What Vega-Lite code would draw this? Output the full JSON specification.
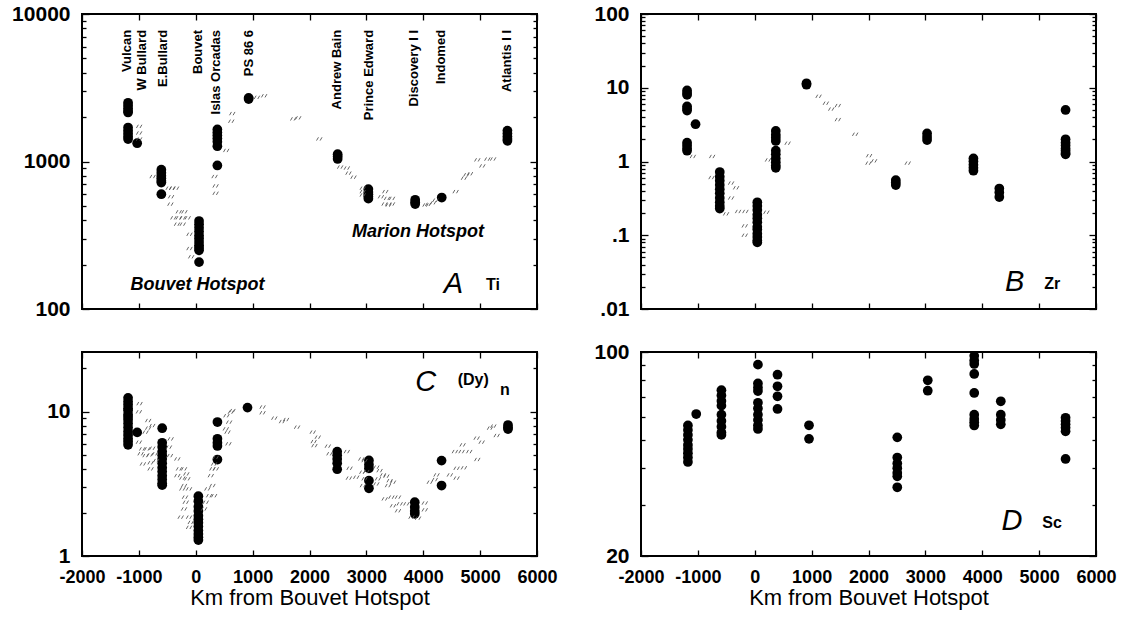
{
  "$schema": "https://vega.github.io/schema/vega-lite/v6.json",
  "padding": {"left": 10, "top": 2, "right": 5, "bottom": 3},
  "background": "white",
  "config": {
    "view": {"stroke": "black", "strokeWidth": 2},
    "font": "Liberation Sans",
    "axis": {"domain": false, "grid": false, "tickColor": "black", "tickWidth": 1.3, "labelFont": "Liberation Sans", "labelFontWeight": "bold", "labelColor": "black", "labelFlush": false, "labelOverlap": false, "labelBound": false, "titleFont": "Liberation Sans", "titleColor": "black"}
  },
  "datasets": {
    "A": [
      {"km": -1190, "v": 2500, "t": "d"}, {"km": -1190, "v": 2400, "t": "d"}, {"km": -1190, "v": 2300, "t": "d"}, {"km": -1190, "v": 2200, "t": "d"}, {"km": -1190, "v": 2150, "t": "d"},
      {"km": -1190, "v": 1700, "t": "d"}, {"km": -1190, "v": 1620, "t": "d"}, {"km": -1190, "v": 1550, "t": "d"}, {"km": -1190, "v": 1480, "t": "d"}, {"km": -1190, "v": 1420, "t": "d"},
      {"km": -1030, "v": 1330, "t": "d"},
      {"km": -605, "v": 880, "t": "d"}, {"km": -605, "v": 840, "t": "d"}, {"km": -605, "v": 800, "t": "d"}, {"km": -605, "v": 770, "t": "d"}, {"km": -605, "v": 740, "t": "d"}, {"km": -605, "v": 720, "t": "d"}, {"km": -605, "v": 600, "t": "d"},
      {"km": 58, "v": 395, "t": "d"}, {"km": 58, "v": 375, "t": "d"}, {"km": 58, "v": 355, "t": "d"}, {"km": 58, "v": 335, "t": "d"}, {"km": 58, "v": 315, "t": "d"}, {"km": 58, "v": 300, "t": "d"}, {"km": 58, "v": 285, "t": "d"}, {"km": 58, "v": 270, "t": "d"}, {"km": 58, "v": 260, "t": "d"}, {"km": 58, "v": 250, "t": "d"}, {"km": 58, "v": 208, "t": "d"},
      {"km": 380, "v": 1650, "t": "d"}, {"km": 380, "v": 1570, "t": "d"}, {"km": 380, "v": 1500, "t": "d"}, {"km": 380, "v": 1430, "t": "d"}, {"km": 380, "v": 1360, "t": "d"}, {"km": 380, "v": 1270, "t": "d"}, {"km": 380, "v": 940, "t": "d"},
      {"km": 930, "v": 2700, "t": "d"}, {"km": 930, "v": 2650, "t": "d"},
      {"km": 2495, "v": 1120, "t": "d"}, {"km": 2495, "v": 1080, "t": "d"}, {"km": 2495, "v": 1040, "t": "d"},
      {"km": 3035, "v": 650, "t": "d"}, {"km": 3035, "v": 620, "t": "d"}, {"km": 3035, "v": 600, "t": "d"}, {"km": 3035, "v": 580, "t": "d"}, {"km": 3035, "v": 560, "t": "d"},
      {"km": 3858, "v": 550, "t": "d"}, {"km": 3858, "v": 530, "t": "d"}, {"km": 3858, "v": 515, "t": "d"},
      {"km": 4325, "v": 570, "t": "d"},
      {"km": 5480, "v": 1620, "t": "d"}, {"km": 5480, "v": 1550, "t": "d"}, {"km": 5480, "v": 1480, "t": "d"}, {"km": 5480, "v": 1420, "t": "d"}, {"km": 5480, "v": 1380, "t": "d"},
      {"km": -995, "v": 1730, "t": "s"}, {"km": -995, "v": 1560, "t": "s"}, {"km": -995, "v": 1420, "t": "s"},
      {"km": -758, "v": 791, "t": "s"}, {"km": -476, "v": 659, "t": "s"}, {"km": -416, "v": 659, "t": "s"}, {"km": -346, "v": 659, "t": "s"}, {"km": -434, "v": 577, "t": "s"}, {"km": -446, "v": 514, "t": "s"}, {"km": -299, "v": 456, "t": "s"}, {"km": -199, "v": 456, "t": "s"}, {"km": -393, "v": 415, "t": "s"}, {"km": -299, "v": 415, "t": "s"}, {"km": -229, "v": 415, "t": "s"}, {"km": -141, "v": 415, "t": "s"}, {"km": -329, "v": 376, "t": "s"}, {"km": -229, "v": 376, "t": "s"}, {"km": -110, "v": 321, "t": "s"}, {"km": -110, "v": 257, "t": "s"}, {"km": -80, "v": 226, "t": "s"},
      {"km": 331, "v": 791, "t": "s"}, {"km": 349, "v": 683, "t": "s"}, {"km": 349, "v": 609, "t": "s"}, {"km": 642, "v": 2113, "t": "s"}, {"km": 624, "v": 1875, "t": "s"}, {"km": 536, "v": 1188, "t": "s"},
      {"km": 1076, "v": 2723, "t": "s"}, {"km": 1203, "v": 2790, "t": "s"}, {"km": 1714, "v": 1945, "t": "s"}, {"km": 1802, "v": 1976, "t": "s"}, {"km": 2172, "v": 1422, "t": "s"},
      {"km": 2539, "v": 917, "t": "s"}, {"km": 2657, "v": 903, "t": "s"}, {"km": 2685, "v": 834, "t": "s"}, {"km": 2774, "v": 783, "t": "s"},
      {"km": 2936, "v": 659, "t": "s"}, {"km": 2936, "v": 625, "t": "s"}, {"km": 2936, "v": 593, "t": "s"}, {"km": 3256, "v": 577, "t": "s"}, {"km": 3333, "v": 625, "t": "s"}, {"km": 3363, "v": 562, "t": "s"}, {"km": 3451, "v": 562, "t": "s"}, {"km": 3320, "v": 515, "t": "s"}, {"km": 3391, "v": 507, "t": "s"}, {"km": 3451, "v": 515, "t": "s"},
      {"km": 4040, "v": 507, "t": "s"}, {"km": 4086, "v": 512, "t": "s"}, {"km": 4175, "v": 525, "t": "s"}, {"km": 4216, "v": 547, "t": "s"},
      {"km": 4570, "v": 625, "t": "s"}, {"km": 4716, "v": 771, "t": "s"}, {"km": 4759, "v": 813, "t": "s"}, {"km": 4822, "v": 826, "t": "s"}, {"km": 4951, "v": 1026, "t": "s"}, {"km": 5039, "v": 933, "t": "s"}, {"km": 5127, "v": 1038, "t": "s"}, {"km": 5229, "v": 1040, "t": "s"}
    ],
    "B": [
      {"km": -1190, "v": 9.2, "t": "d"}, {"km": -1190, "v": 8.5, "t": "d"}, {"km": -1190, "v": 8.0, "t": "d"}, {"km": -1190, "v": 5.6, "t": "d"}, {"km": -1190, "v": 5.2, "t": "d"}, {"km": -1190, "v": 4.9, "t": "d"}, {"km": -1190, "v": 1.8, "t": "d"}, {"km": -1190, "v": 1.65, "t": "d"}, {"km": -1190, "v": 1.5, "t": "d"}, {"km": -1190, "v": 1.4, "t": "d"},
      {"km": -1041, "v": 3.2, "t": "d"},
      {"km": -615, "v": 0.72, "t": "d"}, {"km": -615, "v": 0.62, "t": "d"}, {"km": -615, "v": 0.55, "t": "d"}, {"km": -615, "v": 0.48, "t": "d"}, {"km": -615, "v": 0.42, "t": "d"}, {"km": -615, "v": 0.37, "t": "d"}, {"km": -615, "v": 0.32, "t": "d"}, {"km": -615, "v": 0.28, "t": "d"}, {"km": -615, "v": 0.25, "t": "d"}, {"km": -615, "v": 0.23, "t": "d"},
      {"km": 45, "v": 0.28, "t": "d"}, {"km": 45, "v": 0.25, "t": "d"}, {"km": 45, "v": 0.22, "t": "d"}, {"km": 45, "v": 0.19, "t": "d"}, {"km": 45, "v": 0.17, "t": "d"}, {"km": 45, "v": 0.15, "t": "d"}, {"km": 45, "v": 0.13, "t": "d"}, {"km": 45, "v": 0.12, "t": "d"}, {"km": 45, "v": 0.105, "t": "d"}, {"km": 45, "v": 0.095, "t": "d"}, {"km": 45, "v": 0.085, "t": "d"}, {"km": 45, "v": 0.08, "t": "d"},
      {"km": 370, "v": 2.6, "t": "d"}, {"km": 370, "v": 2.3, "t": "d"}, {"km": 370, "v": 2.1, "t": "d"}, {"km": 370, "v": 1.9, "t": "d"}, {"km": 370, "v": 1.4, "t": "d"}, {"km": 370, "v": 1.25, "t": "d"}, {"km": 370, "v": 1.1, "t": "d"}, {"km": 370, "v": 0.98, "t": "d"}, {"km": 370, "v": 0.88, "t": "d"}, {"km": 370, "v": 0.82, "t": "d"},
      {"km": 910, "v": 11.5, "t": "d"}, {"km": 910, "v": 11, "t": "d"},
      {"km": 2480, "v": 0.56, "t": "d"}, {"km": 2480, "v": 0.52, "t": "d"}, {"km": 2480, "v": 0.48, "t": "d"},
      {"km": 3030, "v": 2.4, "t": "d"}, {"km": 3030, "v": 2.15, "t": "d"}, {"km": 3030, "v": 1.95, "t": "d"},
      {"km": 3845, "v": 1.1, "t": "d"}, {"km": 3845, "v": 1.0, "t": "d"}, {"km": 3845, "v": 0.9, "t": "d"}, {"km": 3845, "v": 0.82, "t": "d"}, {"km": 3845, "v": 0.75, "t": "d"},
      {"km": 4300, "v": 0.43, "t": "d"}, {"km": 4300, "v": 0.38, "t": "d"}, {"km": 4300, "v": 0.33, "t": "d"},
      {"km": 5465, "v": 5.0, "t": "d"}, {"km": 5465, "v": 2.0, "t": "d"}, {"km": 5465, "v": 1.8, "t": "d"}, {"km": 5465, "v": 1.65, "t": "d"}, {"km": 5465, "v": 1.5, "t": "d"}, {"km": 5465, "v": 1.4, "t": "d"}, {"km": 5465, "v": 1.3, "t": "d"}, {"km": 5465, "v": 1.25, "t": "d"},
      {"km": -1088, "v": 1.17, "t": "s"}, {"km": -749, "v": 1.17, "t": "s"}, {"km": -760, "v": 0.606, "t": "s"}, {"km": -416, "v": 0.51, "t": "s"}, {"km": -328, "v": 0.44, "t": "s"}, {"km": -416, "v": 0.32, "t": "s"}, {"km": -504, "v": 0.195, "t": "s"}, {"km": -293, "v": 0.21, "t": "s"}, {"km": -164, "v": 0.21, "t": "s"}, {"km": -176, "v": 0.134, "t": "s"}, {"km": -176, "v": 0.10, "t": "s"}, {"km": 205, "v": 0.205, "t": "s"}, {"km": 233, "v": 1.05, "t": "s"}, {"km": 578, "v": 1.77, "t": "s"},
      {"km": 1122, "v": 7.66, "t": "s"}, {"km": 1250, "v": 6.17, "t": "s"}, {"km": 1345, "v": 5.14, "t": "s"}, {"km": 1461, "v": 5.73, "t": "s"}, {"km": 1461, "v": 3.7, "t": "s"}, {"km": 1766, "v": 2.34, "t": "s"}, {"km": 2011, "v": 1.2, "t": "s"}, {"km": 1999, "v": 0.95, "t": "s"}, {"km": 2099, "v": 1.02, "t": "s"}, {"km": 2690, "v": 0.95, "t": "s"}
    ],
    "C": [
      {"km": -1190, "v": 12.5, "t": "d"}, {"km": -1190, "v": 11.8, "t": "d"}, {"km": -1190, "v": 11.2, "t": "d"}, {"km": -1190, "v": 10.6, "t": "d"}, {"km": -1190, "v": 10.2, "t": "d"}, {"km": -1190, "v": 9.6, "t": "d"}, {"km": -1190, "v": 9.2, "t": "d"}, {"km": -1190, "v": 8.8, "t": "d"}, {"km": -1190, "v": 8.3, "t": "d"}, {"km": -1190, "v": 7.8, "t": "d"}, {"km": -1190, "v": 7.3, "t": "d"}, {"km": -1190, "v": 6.9, "t": "d"}, {"km": -1190, "v": 6.5, "t": "d"}, {"km": -1190, "v": 6.2, "t": "d"}, {"km": -1190, "v": 5.9, "t": "d"},
      {"km": -1030, "v": 7.2, "t": "d"},
      {"km": -590, "v": 7.7, "t": "d"}, {"km": -590, "v": 6.1, "t": "d"}, {"km": -590, "v": 5.7, "t": "d"}, {"km": -590, "v": 5.3, "t": "d"}, {"km": -590, "v": 5.0, "t": "d"}, {"km": -590, "v": 4.7, "t": "d"}, {"km": -590, "v": 4.4, "t": "d"}, {"km": -590, "v": 4.1, "t": "d"}, {"km": -590, "v": 3.85, "t": "d"}, {"km": -590, "v": 3.6, "t": "d"}, {"km": -590, "v": 3.4, "t": "d"}, {"km": -590, "v": 3.2, "t": "d"}, {"km": -590, "v": 3.1, "t": "d"},
      {"km": 46, "v": 2.6, "t": "d"}, {"km": 46, "v": 2.4, "t": "d"}, {"km": 46, "v": 2.2, "t": "d"}, {"km": 46, "v": 2.05, "t": "d"}, {"km": 46, "v": 1.9, "t": "d"}, {"km": 46, "v": 1.8, "t": "d"}, {"km": 46, "v": 1.7, "t": "d"}, {"km": 46, "v": 1.6, "t": "d"}, {"km": 46, "v": 1.5, "t": "d"}, {"km": 46, "v": 1.42, "t": "d"}, {"km": 46, "v": 1.35, "t": "d"}, {"km": 46, "v": 1.29, "t": "d"},
      {"km": 381, "v": 8.5, "t": "d"}, {"km": 381, "v": 6.5, "t": "d"}, {"km": 381, "v": 6.1, "t": "d"}, {"km": 381, "v": 5.8, "t": "d"}, {"km": 381, "v": 4.67, "t": "d"},
      {"km": 910, "v": 10.7, "t": "d"},
      {"km": 2487, "v": 5.3, "t": "d"}, {"km": 2487, "v": 5.0, "t": "d"}, {"km": 2487, "v": 4.7, "t": "d"}, {"km": 2487, "v": 4.4, "t": "d"}, {"km": 2487, "v": 4.0, "t": "d"},
      {"km": 3045, "v": 4.6, "t": "d"}, {"km": 3045, "v": 4.3, "t": "d"}, {"km": 3045, "v": 4.05, "t": "d"}, {"km": 3045, "v": 3.33, "t": "d"}, {"km": 3045, "v": 2.95, "t": "d"},
      {"km": 3851, "v": 2.36, "t": "d"}, {"km": 3851, "v": 2.19, "t": "d"}, {"km": 3851, "v": 2.05, "t": "d"}, {"km": 3851, "v": 1.96, "t": "d"},
      {"km": 4322, "v": 4.59, "t": "d"}, {"km": 4322, "v": 3.08, "t": "d"},
      {"km": 5490, "v": 8.1, "t": "d"}, {"km": 5490, "v": 7.8, "t": "d"}, {"km": 5490, "v": 7.6, "t": "d"},
      {"km": -988, "v": 11.4, "t": "s"}, {"km": -1000, "v": 10.0, "t": "s"},
      {"km": -836, "v": 8.7, "t": "s"}, {"km": -836, "v": 7.71, "t": "s"}, {"km": -765, "v": 8.03, "t": "s"}, {"km": -882, "v": 7.23, "t": "s"}, {"km": -1000, "v": 6.16, "t": "s"}, {"km": -942, "v": 5.53, "t": "s"}, {"km": -854, "v": 5.53, "t": "s"}, {"km": -765, "v": 5.59, "t": "s"}, {"km": -970, "v": 5.12, "t": "s"}, {"km": -882, "v": 4.97, "t": "s"}, {"km": -806, "v": 5.03, "t": "s"}, {"km": -718, "v": 5.12, "t": "s"}, {"km": -930, "v": 4.35, "t": "s"}, {"km": -794, "v": 4.43, "t": "s"}, {"km": -695, "v": 4.59, "t": "s"}, {"km": -794, "v": 4.02, "t": "s"},
      {"km": -441, "v": 6.49, "t": "s"}, {"km": -471, "v": 5.69, "t": "s"}, {"km": -453, "v": 4.97, "t": "s"}, {"km": -324, "v": 4.71, "t": "s"}, {"km": -295, "v": 4.02, "t": "s"}, {"km": -206, "v": 4.02, "t": "s"}, {"km": -166, "v": 3.71, "t": "s"}, {"km": -324, "v": 3.61, "t": "s"}, {"km": -236, "v": 3.47, "t": "s"}, {"km": -148, "v": 3.43, "t": "s"}, {"km": -206, "v": 3.08, "t": "s"}, {"km": -236, "v": 2.92, "t": "s"}, {"km": -118, "v": 2.92, "t": "s"}, {"km": -189, "v": 2.56, "t": "s"}, {"km": -176, "v": 2.36, "t": "s"}, {"km": -206, "v": 2.12, "t": "s"}, {"km": -265, "v": 1.86, "t": "s"}, {"km": -118, "v": 1.86, "t": "s"}, {"km": -88, "v": 1.71, "t": "s"}, {"km": -118, "v": 1.58, "t": "s"},
      {"km": 146, "v": 2.12, "t": "s"}, {"km": 176, "v": 2.36, "t": "s"}, {"km": 235, "v": 2.62, "t": "s"}, {"km": 323, "v": 2.62, "t": "s"}, {"km": 205, "v": 2.92, "t": "s"}, {"km": 293, "v": 3.08, "t": "s"}, {"km": 265, "v": 3.61, "t": "s"}, {"km": 293, "v": 4.02, "t": "s"}, {"km": 353, "v": 4.02, "t": "s"}, {"km": 323, "v": 4.35, "t": "s"}, {"km": 353, "v": 4.84, "t": "s"}, {"km": 529, "v": 7.62, "t": "s"}, {"km": 587, "v": 8.48, "t": "s"}, {"km": 558, "v": 7.23, "t": "s"}, {"km": 617, "v": 9.95, "t": "s"}, {"km": 646, "v": 10.2, "t": "s"}, {"km": 540, "v": 9.4, "t": "s"}, {"km": 575, "v": 6.0, "t": "s"},
      {"km": 1175, "v": 10.8, "t": "s"}, {"km": 1175, "v": 9.85, "t": "s"}, {"km": 1381, "v": 9.04, "t": "s"}, {"km": 1517, "v": 8.56, "t": "s"}, {"km": 1588, "v": 8.84, "t": "s"}, {"km": 1782, "v": 7.83, "t": "s"}, {"km": 2057, "v": 7.23, "t": "s"}, {"km": 2145, "v": 6.67, "t": "s"}, {"km": 2074, "v": 6.22, "t": "s"}, {"km": 2087, "v": 5.83, "t": "s"}, {"km": 2322, "v": 5.78, "t": "s"}, {"km": 2351, "v": 5.12, "t": "s"}, {"km": 2657, "v": 5.3, "t": "s"}, {"km": 2704, "v": 4.06, "t": "s"}, {"km": 2911, "v": 4.71, "t": "s"}, {"km": 2969, "v": 4.59, "t": "s"}, {"km": 2928, "v": 3.81, "t": "s"}, {"km": 2999, "v": 3.85, "t": "s"}, {"km": 2692, "v": 3.47, "t": "s"}, {"km": 2822, "v": 3.52, "t": "s"}, {"km": 2969, "v": 3.43, "t": "s"}, {"km": 2939, "v": 3.08, "t": "s"},
      {"km": 3175, "v": 4.13, "t": "s"}, {"km": 3233, "v": 3.91, "t": "s"}, {"km": 3292, "v": 3.65, "t": "s"}, {"km": 3351, "v": 3.58, "t": "s"}, {"km": 3410, "v": 3.33, "t": "s"}, {"km": 3468, "v": 3.25, "t": "s"}, {"km": 3380, "v": 3.08, "t": "s"}, {"km": 3204, "v": 3.43, "t": "s"}, {"km": 3175, "v": 3.16, "t": "s"},
      {"km": 3322, "v": 2.49, "t": "s"}, {"km": 3440, "v": 2.56, "t": "s"}, {"km": 3556, "v": 2.56, "t": "s"}, {"km": 3704, "v": 2.3, "t": "s"}, {"km": 3468, "v": 2.23, "t": "s"}, {"km": 3586, "v": 2.3, "t": "s"}, {"km": 3556, "v": 2.06, "t": "s"},
      {"km": 4027, "v": 2.33, "t": "s"}, {"km": 4027, "v": 2.09, "t": "s"}, {"km": 3793, "v": 1.86, "t": "s"}, {"km": 3909, "v": 1.83, "t": "s"},
      {"km": 4115, "v": 3.25, "t": "s"}, {"km": 4203, "v": 3.39, "t": "s"}, {"km": 4234, "v": 3.65, "t": "s"},
      {"km": 4468, "v": 3.65, "t": "s"}, {"km": 4586, "v": 4.06, "t": "s"}, {"km": 4715, "v": 4.09, "t": "s"}, {"km": 4586, "v": 3.47, "t": "s"},
      {"km": 4556, "v": 5.3, "t": "s"}, {"km": 4674, "v": 5.3, "t": "s"}, {"km": 4809, "v": 5.3, "t": "s"}, {"km": 4692, "v": 5.9, "t": "s"}, {"km": 4939, "v": 6.57, "t": "s"}, {"km": 5027, "v": 6.16, "t": "s"}, {"km": 4950, "v": 4.67, "t": "s"},
      {"km": 5174, "v": 7.71, "t": "s"}, {"km": 5232, "v": 7.96, "t": "s"}, {"km": 5292, "v": 6.85, "t": "s"}
    ],
    "D": [
      {"km": -1175, "v": 56, "t": "d"}, {"km": -1175, "v": 54, "t": "d"}, {"km": -1175, "v": 52, "t": "d"}, {"km": -1175, "v": 50, "t": "d"}, {"km": -1175, "v": 48, "t": "d"}, {"km": -1175, "v": 46.5, "t": "d"}, {"km": -1175, "v": 45, "t": "d"}, {"km": -1175, "v": 43.5, "t": "d"}, {"km": -1175, "v": 42, "t": "d"},
      {"km": -1029, "v": 61.3, "t": "d"},
      {"km": -586, "v": 74, "t": "d"}, {"km": -586, "v": 71, "t": "d"}, {"km": -586, "v": 68, "t": "d"}, {"km": -586, "v": 65.5, "t": "d"}, {"km": -586, "v": 61, "t": "d"}, {"km": -586, "v": 58, "t": "d"}, {"km": -586, "v": 55.5, "t": "d"}, {"km": -586, "v": 53, "t": "d"}, {"km": -586, "v": 52, "t": "d"},
      {"km": 56, "v": 90.5, "t": "d"}, {"km": 56, "v": 78, "t": "d"}, {"km": 56, "v": 75.5, "t": "d"}, {"km": 56, "v": 73.5, "t": "d"}, {"km": 56, "v": 67, "t": "d"}, {"km": 56, "v": 64, "t": "d"}, {"km": 56, "v": 61, "t": "d"}, {"km": 56, "v": 58.5, "t": "d"}, {"km": 56, "v": 56, "t": "d"}, {"km": 56, "v": 54.5, "t": "d"},
      {"km": 400, "v": 83.6, "t": "d"}, {"km": 400, "v": 76.3, "t": "d"}, {"km": 400, "v": 70.5, "t": "d"}, {"km": 400, "v": 63.8, "t": "d"},
      {"km": 954, "v": 56.1, "t": "d"}, {"km": 954, "v": 50.4, "t": "d"},
      {"km": 2506, "v": 51, "t": "d"}, {"km": 2506, "v": 43.5, "t": "d"}, {"km": 2506, "v": 41.5, "t": "d"}, {"km": 2506, "v": 40, "t": "d"}, {"km": 2506, "v": 38.5, "t": "d"}, {"km": 2506, "v": 37.5, "t": "d"}, {"km": 2506, "v": 34.4, "t": "d"},
      {"km": 3042, "v": 80, "t": "d"}, {"km": 3042, "v": 73.7, "t": "d"},
      {"km": 3859, "v": 97, "t": "d"}, {"km": 3859, "v": 93.5, "t": "d"}, {"km": 3859, "v": 91, "t": "d"}, {"km": 3859, "v": 84.1, "t": "d"}, {"km": 3859, "v": 72.4, "t": "d"}, {"km": 3859, "v": 61, "t": "d"}, {"km": 3859, "v": 59, "t": "d"}, {"km": 3859, "v": 57.5, "t": "d"}, {"km": 3859, "v": 56, "t": "d"},
      {"km": 4326, "v": 67.8, "t": "d"}, {"km": 4326, "v": 61, "t": "d"}, {"km": 4326, "v": 58.5, "t": "d"}, {"km": 4326, "v": 56.5, "t": "d"},
      {"km": 5465, "v": 59.5, "t": "d"}, {"km": 5465, "v": 58, "t": "d"}, {"km": 5465, "v": 56.5, "t": "d"}, {"km": 5465, "v": 55, "t": "d"}, {"km": 5465, "v": 53.5, "t": "d"}, {"km": 5465, "v": 43, "t": "d"}
    ]
  },
  "concat": [
    {
      "width": 455, "height": 295,
      "data": {"name": "A"},
      "layer": [
        {
          "transform": [{"filter": "datum.t == 'd'"}],
          "mark": {"type": "point", "shape": "circle", "filled": true, "size": 95, "color": "black", "opacity": 1},
          "encoding": {
            "x": {"field": "km", "type": "quantitative", "scale": {"domain": [-2000, 6000], "nice": false, "zero": false}, "axis": {"orient": "bottom", "values": [-2000, -1000, 0, 1000, 2000, 3000, 4000, 5000, 6000], "labels": false, "tickSize": -6, "title": null}},
            "y": {"field": "v", "type": "quantitative", "scale": {"type": "log", "domain": [100, 10000], "nice": false}, "axis": {"orient": "left", "values": [100, 1000, 10000], "format": "d", "tickSize": -7, "labelPadding": 19, "labelFontSize": 21, "title": null}}
          }
        },
        {
          "transform": [{"filter": "datum.t == 's'"}],
          "mark": {"type": "point", "shape": "M-1,0.6L-0.3,-0.6M0.3,0.6L1,-0.6", "filled": false, "size": 30, "color": "#555", "strokeWidth": 0.9, "opacity": 1},
          "encoding": {
            "x": {"field": "km", "type": "quantitative", "scale": {"domain": [-2000, 6000], "nice": false, "zero": false}, "axis": {"orient": "top", "values": [-2000, -1000, 0, 1000, 2000, 3000, 4000, 5000, 6000], "labels": false, "tickSize": -6, "title": null}},
            "y": {"field": "v", "type": "quantitative", "scale": {"type": "log", "domain": [100, 10000], "nice": false}, "axis": {"orient": "left", "values": [200, 300, 400, 500, 600, 700, 800, 900, 2000, 3000, 4000, 5000, 6000, 7000, 8000, 9000], "labels": false, "tickSize": -4, "title": null}}
          }
        },
        {
          "data": {"values": [
            {"km": -1204, "v": 7800, "label": "Vulcan"}, {"km": -950, "v": 7800, "label": "W Bullard"}, {"km": -578, "v": 7800, "label": "E.Bullard"}, {"km": 31, "v": 7800, "label": "Bouvet"}, {"km": 361, "v": 7800, "label": "Islas Orcadas"}, {"km": 932, "v": 7800, "label": "PS 86 6"}, {"km": 2480, "v": 7800, "label": "Andrew Bain"}, {"km": 3038, "v": 7800, "label": "Prince Edward"}, {"km": 3833, "v": 7800, "label": "Discovery I I"}, {"km": 4319, "v": 7800, "label": "Indomed"}, {"km": 5479, "v": 7800, "label": "Atlantis I I"}
          ]},
          "mark": {"type": "text", "angle": 270, "align": "right", "baseline": "middle", "font": "Liberation Sans", "fontWeight": "bold", "fontSize": 13, "color": "black"},
          "encoding": {
            "x": {"field": "km", "type": "quantitative", "scale": {"domain": [-2000, 6000], "nice": false, "zero": false}, "axis": null},
            "y": {"field": "v", "type": "quantitative", "scale": {"type": "log", "domain": [100, 10000], "nice": false}, "axis": {"orient": "right", "values": [100, 1000, 10000], "labels": false, "tickSize": -7, "title": null}},
            "text": {"field": "label"}
          }
        },
        {
          "data": {"values": [
            {"km": 31, "v": 145, "label": "Bouvet Hotspot"}, {"km": 3907, "v": 334, "label": "Marion Hotspot"}
          ]},
          "mark": {"type": "text", "align": "center", "baseline": "middle", "font": "Liberation Sans", "fontWeight": "bold", "fontStyle": "italic", "fontSize": 18, "color": "black"},
          "encoding": {
            "x": {"field": "km", "type": "quantitative", "scale": {"domain": [-2000, 6000], "nice": false, "zero": false}, "axis": null},
            "y": {"field": "v", "type": "quantitative", "scale": {"type": "log", "domain": [100, 10000], "nice": false}, "axis": {"orient": "right", "values": [200, 300, 400, 500, 600, 700, 800, 900, 2000, 3000, 4000, 5000, 6000, 7000, 8000, 9000], "labels": false, "tickSize": -4, "title": null}},
            "text": {"field": "label"}
          }
        },
        {
          "data": {"values": [{"km": 4531, "v": 148, "label": "A"}]},
          "mark": {"type": "text", "align": "center", "baseline": "middle", "font": "Liberation Sans", "fontStyle": "italic", "fontSize": 29, "color": "black"},
          "encoding": {
            "x": {"field": "km", "type": "quantitative", "scale": {"domain": [-2000, 6000], "nice": false, "zero": false}, "axis": null},
            "y": {"field": "v", "type": "quantitative", "scale": {"type": "log", "domain": [100, 10000], "nice": false}, "axis": null},
            "text": {"field": "label"}
          }
        },
        {
          "data": {"values": [{"km": 5228, "v": 145, "label": "Ti"}]},
          "mark": {"type": "text", "align": "center", "baseline": "middle", "font": "Liberation Sans", "fontWeight": "bold", "fontSize": 16, "color": "black"},
          "encoding": {
            "x": {"field": "km", "type": "quantitative", "scale": {"domain": [-2000, 6000], "nice": false, "zero": false}, "axis": null},
            "y": {"field": "v", "type": "quantitative", "scale": {"type": "log", "domain": [100, 10000], "nice": false}, "axis": null},
            "text": {"field": "label"}
          }
        }
      ],
      "resolve": {"axis": {"x": "independent", "y": "independent"}}
    },
    {
      "width": 455, "height": 295,
      "data": {"name": "B"},
      "layer": [
        {
          "transform": [{"filter": "datum.t == 'd'"}],
          "mark": {"type": "point", "shape": "circle", "filled": true, "size": 95, "color": "black", "opacity": 1},
          "encoding": {
            "x": {"field": "km", "type": "quantitative", "scale": {"domain": [-2000, 6000], "nice": false, "zero": false}, "axis": {"orient": "bottom", "values": [-2000, -1000, 0, 1000, 2000, 3000, 4000, 5000, 6000], "labels": false, "tickSize": -6, "title": null}},
            "y": {"field": "v", "type": "quantitative", "scale": {"type": "log", "domain": [0.01, 100], "nice": false}, "axis": {"orient": "left", "values": [0.01, 0.1, 1, 10, 100], "labelExpr": "datum.value < 1 ? replace(format(datum.value, '~g'), '0.', '.') : format(datum.value, 'd')", "tickSize": -7, "labelPadding": 19, "labelFontSize": 21, "title": null}}
          }
        },
        {
          "transform": [{"filter": "datum.t == 's'"}],
          "mark": {"type": "point", "shape": "M-1,0.6L-0.3,-0.6M0.3,0.6L1,-0.6", "filled": false, "size": 30, "color": "#555", "strokeWidth": 0.9, "opacity": 1},
          "encoding": {
            "x": {"field": "km", "type": "quantitative", "scale": {"domain": [-2000, 6000], "nice": false, "zero": false}, "axis": {"orient": "top", "values": [-2000, -1000, 0, 1000, 2000, 3000, 4000, 5000, 6000], "labels": false, "tickSize": -6, "title": null}},
            "y": {"field": "v", "type": "quantitative", "scale": {"type": "log", "domain": [0.01, 100], "nice": false}, "axis": {"orient": "left", "values": [0.02, 0.03, 0.04, 0.05, 0.06, 0.07, 0.08, 0.09, 0.2, 0.3, 0.4, 0.5, 0.6, 0.7, 0.8, 0.9, 2, 3, 4, 5, 6, 7, 8, 9, 20, 30, 40, 50, 60, 70, 80, 90], "labels": false, "tickSize": -4, "title": null}}
          }
        },
        {
          "data": {"values": [{"km": 4571, "v": 0.023, "label": "B"}]},
          "mark": {"type": "text", "align": "center", "baseline": "middle", "font": "Liberation Sans", "fontStyle": "italic", "fontSize": 29, "color": "black"},
          "encoding": {
            "x": {"field": "km", "type": "quantitative", "scale": {"domain": [-2000, 6000], "nice": false, "zero": false}, "axis": null},
            "y": {"field": "v", "type": "quantitative", "scale": {"type": "log", "domain": [0.01, 100], "nice": false}, "axis": {"orient": "right", "values": [0.01, 0.1, 1, 10, 100], "labels": false, "tickSize": -7, "title": null}},
            "text": {"field": "label"}
          }
        },
        {
          "data": {"values": [{"km": 5232, "v": 0.0215, "label": "Zr"}]},
          "mark": {"type": "text", "align": "center", "baseline": "middle", "font": "Liberation Sans", "fontWeight": "bold", "fontSize": 16, "color": "black"},
          "encoding": {
            "x": {"field": "km", "type": "quantitative", "scale": {"domain": [-2000, 6000], "nice": false, "zero": false}, "axis": null},
            "y": {"field": "v", "type": "quantitative", "scale": {"type": "log", "domain": [0.01, 100], "nice": false}, "axis": {"orient": "right", "values": [0.02, 0.03, 0.04, 0.05, 0.06, 0.07, 0.08, 0.09, 0.2, 0.3, 0.4, 0.5, 0.6, 0.7, 0.8, 0.9, 2, 3, 4, 5, 6, 7, 8, 9, 20, 30, 40, 50, 60, 70, 80, 90], "labels": false, "tickSize": -4, "title": null}},
            "text": {"field": "label"}
          }
        }
      ],
      "resolve": {"axis": {"x": "independent", "y": "independent"}}
    },
    {
      "width": 455, "height": 204,
      "data": {"name": "C"},
      "layer": [
        {
          "transform": [{"filter": "datum.t == 'd'"}],
          "mark": {"type": "point", "shape": "circle", "filled": true, "size": 95, "color": "black", "opacity": 1},
          "encoding": {
            "x": {"field": "km", "type": "quantitative", "scale": {"domain": [-2000, 6000], "nice": false, "zero": false}, "axis": {"orient": "bottom", "values": [-2000, -1000, 0, 1000, 2000, 3000, 4000, 5000, 6000], "labelExpr": "datum.value + ''", "labelFontSize": 18, "labelPadding": 18, "tickSize": -6, "title": "Km from Bouvet Hotspot", "titleFontSize": 22, "titleFontWeight": "normal", "titlePadding": 1}},
            "y": {"field": "v", "type": "quantitative", "scale": {"type": "log", "domain": [1, 26], "nice": false}, "axis": {"orient": "left", "values": [1, 10], "format": "d", "tickSize": -7, "labelPadding": 19, "labelFontSize": 21, "title": null}}
          }
        },
        {
          "transform": [{"filter": "datum.t == 's'"}],
          "mark": {"type": "point", "shape": "M-1,0.6L-0.3,-0.6M0.3,0.6L1,-0.6", "filled": false, "size": 30, "color": "#555", "strokeWidth": 0.9, "opacity": 1},
          "encoding": {
            "x": {"field": "km", "type": "quantitative", "scale": {"domain": [-2000, 6000], "nice": false, "zero": false}, "axis": {"orient": "top", "values": [-2000, -1000, 0, 1000, 2000, 3000, 4000, 5000, 6000], "labels": false, "tickSize": -6, "title": null}},
            "y": {"field": "v", "type": "quantitative", "scale": {"type": "log", "domain": [1, 26], "nice": false}, "axis": {"orient": "left", "values": [2, 3, 4, 5, 6, 7, 8, 9, 20], "labels": false, "tickSize": -4, "title": null}}
          }
        },
        {
          "data": {"values": [{"km": 4043, "v": 16.1, "label": "C"}]},
          "mark": {"type": "text", "align": "center", "baseline": "middle", "font": "Liberation Sans", "fontStyle": "italic", "fontSize": 29, "color": "black"},
          "encoding": {
            "x": {"field": "km", "type": "quantitative", "scale": {"domain": [-2000, 6000], "nice": false, "zero": false}, "axis": null},
            "y": {"field": "v", "type": "quantitative", "scale": {"type": "log", "domain": [1, 26], "nice": false}, "axis": {"orient": "right", "values": [1, 10], "labels": false, "tickSize": -7, "title": null}},
            "text": {"field": "label"}
          }
        },
        {
          "data": {"values": [{"km": 4879, "v": 16.5, "label": "(Dy)"}, {"km": 5437, "v": 14.1, "label": "n"}]},
          "mark": {"type": "text", "align": "center", "baseline": "middle", "font": "Liberation Sans", "fontWeight": "bold", "fontSize": 16, "color": "black"},
          "encoding": {
            "x": {"field": "km", "type": "quantitative", "scale": {"domain": [-2000, 6000], "nice": false, "zero": false}, "axis": null},
            "y": {"field": "v", "type": "quantitative", "scale": {"type": "log", "domain": [1, 26], "nice": false}, "axis": {"orient": "right", "values": [2, 3, 4, 5, 6, 7, 8, 9, 20], "labels": false, "tickSize": -4, "title": null}},
            "text": {"field": "label"}
          }
        }
      ],
      "resolve": {"axis": {"x": "independent", "y": "independent"}}
    },
    {
      "width": 455, "height": 204,
      "data": {"name": "D"},
      "layer": [
        {
          "transform": [{"filter": "datum.t == 'd'"}],
          "mark": {"type": "point", "shape": "circle", "filled": true, "size": 95, "color": "black", "opacity": 1},
          "encoding": {
            "x": {"field": "km", "type": "quantitative", "scale": {"domain": [-2000, 6000], "nice": false, "zero": false}, "axis": {"orient": "bottom", "values": [-2000, -1000, 0, 1000, 2000, 3000, 4000, 5000, 6000], "labelExpr": "datum.value + ''", "labelFontSize": 18, "labelPadding": 18, "tickSize": -6, "title": "Km from Bouvet Hotspot", "titleFontSize": 22, "titleFontWeight": "normal", "titlePadding": 1}},
            "y": {"field": "v", "type": "quantitative", "scale": {"type": "log", "domain": [20, 100], "nice": false}, "axis": {"orient": "left", "values": [20, 100], "format": "d", "tickSize": -7, "labelPadding": 19, "labelFontSize": 21, "title": null}}
          }
        },
        {
          "transform": [{"filter": "datum.t == 's'"}],
          "mark": {"type": "point", "shape": "M-1,0.6L-0.3,-0.6M0.3,0.6L1,-0.6", "filled": false, "size": 30, "color": "#555", "strokeWidth": 0.9, "opacity": 1},
          "encoding": {
            "x": {"field": "km", "type": "quantitative", "scale": {"domain": [-2000, 6000], "nice": false, "zero": false}, "axis": {"orient": "top", "values": [-2000, -1000, 0, 1000, 2000, 3000, 4000, 5000, 6000], "labels": false, "tickSize": -6, "title": null}},
            "y": {"field": "v", "type": "quantitative", "scale": {"type": "log", "domain": [20, 100], "nice": false}, "axis": {"orient": "left", "values": [30, 40, 50, 60, 70, 80, 90], "labels": false, "tickSize": -4, "title": null}}
          }
        },
        {
          "data": {"values": [{"km": 4524, "v": 26.3, "label": "D"}]},
          "mark": {"type": "text", "align": "center", "baseline": "middle", "font": "Liberation Sans", "fontStyle": "italic", "fontSize": 29, "color": "black"},
          "encoding": {
            "x": {"field": "km", "type": "quantitative", "scale": {"domain": [-2000, 6000], "nice": false, "zero": false}, "axis": null},
            "y": {"field": "v", "type": "quantitative", "scale": {"type": "log", "domain": [20, 100], "nice": false}, "axis": {"orient": "right", "values": [20, 100], "labels": false, "tickSize": -7, "title": null}},
            "text": {"field": "label"}
          }
        },
        {
          "data": {"values": [{"km": 5227, "v": 26, "label": "Sc"}]},
          "mark": {"type": "text", "align": "center", "baseline": "middle", "font": "Liberation Sans", "fontWeight": "bold", "fontSize": 16, "color": "black"},
          "encoding": {
            "x": {"field": "km", "type": "quantitative", "scale": {"domain": [-2000, 6000], "nice": false, "zero": false}, "axis": null},
            "y": {"field": "v", "type": "quantitative", "scale": {"type": "log", "domain": [20, 100], "nice": false}, "axis": {"orient": "right", "values": [30, 40, 50, 60, 70, 80, 90], "labels": false, "tickSize": -4, "title": null}},
            "text": {"field": "label"}
          }
        }
      ],
      "resolve": {"axis": {"x": "independent", "y": "independent"}}
    }
  ],
  "columns": 2,
  "spacing": {"row": 43, "column": 104},
  "bounds": "flush"
}
